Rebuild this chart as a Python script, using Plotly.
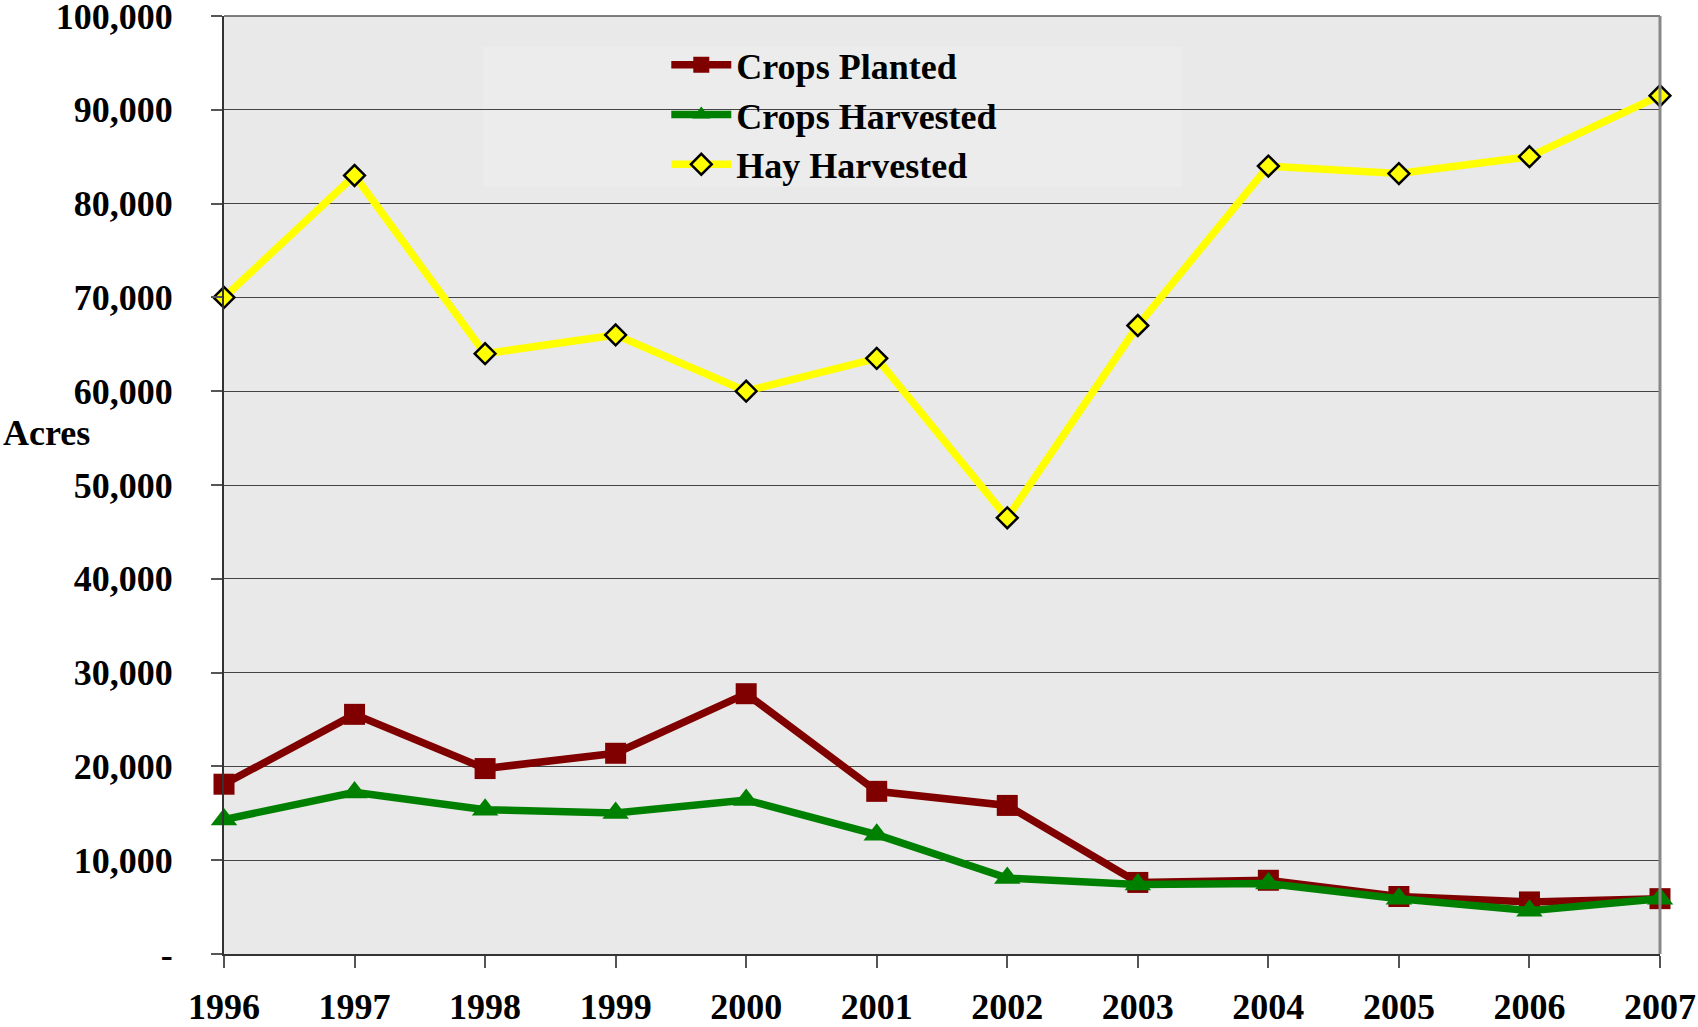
import plotly.graph_objects as go

years = [1996, 1997, 1998, 1999, 2000, 2001, 2002, 2003, 2004, 2005, 2006, 2007]
crops_planted = [18100, 25550, 19770, 21400, 27750, 17340, 15840, 7630, 7860, 6130, 5550, 5900]
crops_harvested = [14340, 17230, 15380, 15030, 16420, 12720, 8090, 7400, 7510, 5900, 4620, 5900]
hay_harvested = [70000, 83000, 64000, 66000, 60000, 63500, 46500, 67000, 84000, 83200, 85000, 91500]

y_tickvals = [0, 10000, 20000, 30000, 40000, 50000, 60000, 70000, 80000, 90000, 100000]
y_ticktext = ["-", "10,000", "20,000", "30,000", "40,000", "50,000", "60,000",
              "70,000", "80,000", "90,000", "100,000"]

FONT = "Liberation Serif, Times New Roman, serif"
BG = "#e9e9e9"
LEG_BG = "#ececec"

fig = go.Figure()
fig.add_trace(go.Scatter(
    x=years, y=crops_planted, name="Crops Planted", mode="lines+markers",
    line=dict(color="#800000", width=7.5),
    marker=dict(symbol="square", size=21, color="#800000"),
    cliponaxis=False))
fig.add_trace(go.Scatter(
    x=years, y=crops_harvested, name="Crops Harvested", mode="lines+markers",
    line=dict(color="#008000", width=7.5),
    marker=dict(symbol="triangle-up", size=23, color="#008000"),
    cliponaxis=False))
fig.add_trace(go.Scatter(
    x=years, y=hay_harvested, name="Hay Harvested", mode="lines+markers",
    line=dict(color="#ffff00", width=7.5),
    marker=dict(symbol="diamond", size=16, color="#ffff00",
                line=dict(color="#000000", width=2.5)),
    cliponaxis=False))

fig.update_layout(
    width=1698, height=1027,
    margin=dict(l=224, r=38, t=16, b=73, autoexpand=False),
    paper_bgcolor="white", plot_bgcolor=BG,
    font=dict(family=FONT, size=36, color="black", weight="bold"),
    showlegend=True,
    legend=dict(x=0.308, y=0.98, xanchor="left", yanchor="top",
                bgcolor="rgba(0,0,0,0)", borderwidth=0,
                font=dict(family=FONT, size=36, color="black", weight="bold"),
                itemwidth=60, tracegroupgap=0),
    annotations=[dict(text="Acres", x=0.0, xref="paper", xanchor="left",
                      y=0.555, yref="paper", yanchor="middle",
                      showarrow=False, xshift=-223,
                      font=dict(family=FONT, size=36, color="black", weight="bold"))],
    shapes=[
        # legend box (hides the gridline behind it)
        dict(type="rect", xref="paper", yref="paper",
             x0=(483 - 224) / 1436, x1=(1182 - 224) / 1436,
             y0=(954 - 187) / 938, y1=(954 - 47) / 938,
             fillcolor=LEG_BG, line=dict(width=0), layer="between"),
        # top border
        dict(type="line", xref="paper", yref="paper", x0=0, x1=1, y0=1, y1=1,
             line=dict(color="#555555", width=1.5)),
        # right border
        dict(type="line", xref="paper", yref="paper", x0=1, x1=1, y0=0, y1=1,
             line=dict(color="#888888", width=3)),
    ],
)
fig.update_xaxes(
    range=[1996, 2007], tickmode="array", tickvals=years,
    ticktext=[str(y) for y in years], automargin=False,
    showgrid=False, showline=True, linecolor="#333333", linewidth=2,
    ticks="outside", ticklen=12, tickcolor="#555555", tickwidth=2,
    ticklabelstandoff=8, zeroline=False, ticklabeloverflow="allow",
    tickfont=dict(family=FONT, size=36, color="black", weight="bold"))
fig.update_yaxes(
    range=[0, 100000], tickmode="array", tickvals=y_tickvals, ticktext=y_ticktext,
    automargin=False,
    showgrid=True, gridcolor="#444444", gridwidth=1,
    showline=True, linecolor="#333333", linewidth=2, mirror=False,
    ticks="outside", ticklen=11, tickcolor="#555555", tickwidth=2,
    ticklabelstandoff=31, zeroline=False, ticklabeloverflow="allow",
    tickfont=dict(family=FONT, size=36, color="black", weight="bold"))

fig.write_html("out.html", config={"displayModeBar": False},
               post_script="document.body.style.margin='0';document.body.style.overflow='hidden';")
